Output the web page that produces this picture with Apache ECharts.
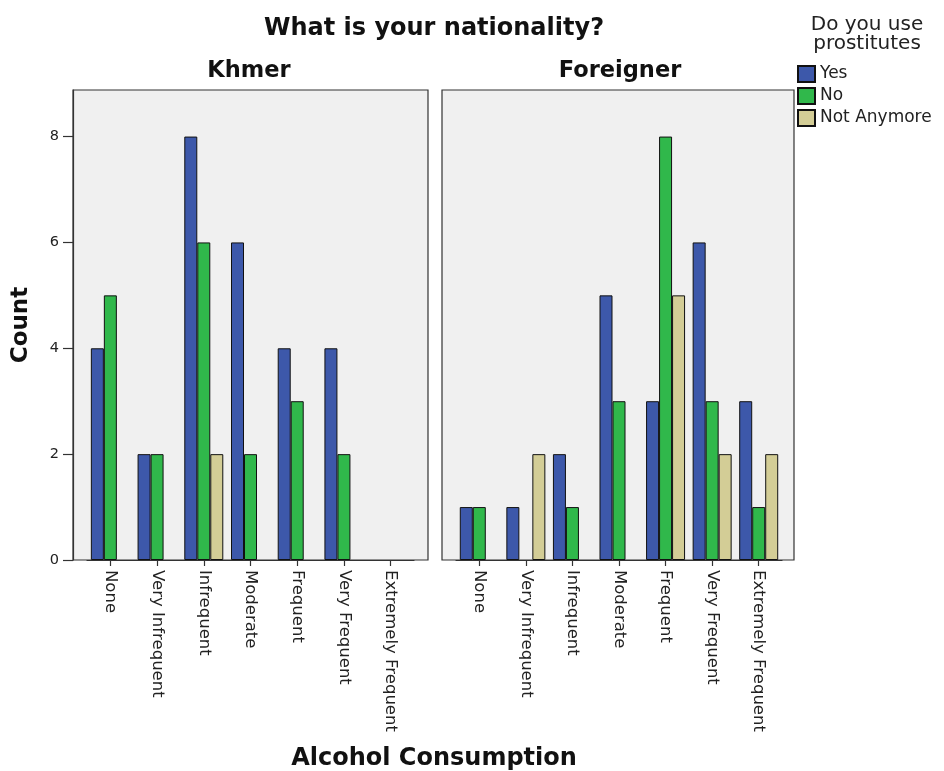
<!DOCTYPE html>
<html>
<head>
<meta charset="utf-8">
<script src="https://cdn.jsdelivr.net/npm/echarts@6/dist/echarts.min.js"></script>
<style>html,body{margin:0;padding:0;background:#fff;}#c{width:944px;height:771px;}</style>
</head>
<body>
<div id="c"></div>
<script>
const categories = ['None','Very Infrequent','Infrequent','Moderate','Frequent','Very Frequent','Extremely Frequent'];
const panels = ['Khmer','Foreigner'];
const seriesNames = ['Yes','No','Not Anymore'];
const khmerYes = [4,2,8,6,4,4,0];
const khmerNo = [5,2,6,2,3,2,0];
const khmerNotAnymore = [0,0,2,0,0,0,0];
const foreignerYes = [1,1,2,5,3,6,3];
const foreignerNo = [1,0,1,3,8,3,1];
const foreignerNotAnymore = [0,2,0,0,5,2,2];
const yTicks = [0,2,4,6,8];
const yMax = 8.88;

const colors = ['#3d58aa','#30b84b','#d3cd96'];
const font = 'DejaVu Sans';
const panelData = [
  [khmerYes, khmerNo, khmerNotAnymore],
  [foreignerYes, foreignerNo, foreignerNotAnymore]
];

const chart = echarts.init(document.getElementById('c'), null, {renderer:'canvas'});

const grids = [
  {left:73, top:90, width:355, height:470, show:true, backgroundColor:'#f0f0f0', borderColor:'#333', borderWidth:1.2},
  {left:442, top:90, width:352, height:470, show:true, backgroundColor:'#f0f0f0', borderColor:'#333', borderWidth:1.2},
  {left:87, top:90, width:327, height:470},
  {left:456, top:90, width:326, height:470}
];

const xAxes = [0,1].map(i => ({
  gridIndex: 2 + i, type:'category', data: categories, boundaryGap:true,
  axisLine:{show:true, lineStyle:{color:'#333', width:1.2}},
  axisTick:{show:true, alignWithLabel:true, length:6, lineStyle:{color:'#333', width:1.2}},
  axisLabel:{interval:0, rotate:-90, fontFamily:font, fontSize:16.5, color:'#222', margin:10}
}));

const yAxes = [
  {gridIndex:2, type:'value', min:0, max:yMax, offset:14,
   name:'Count', nameLocation:'middle', nameRotate:90, nameGap:40,
   nameTextStyle:{fontFamily:font, fontSize:23, fontWeight:'bold', color:'#111'},
   axisLine:{show:true, lineStyle:{color:'#333', width:1.2}},
   axisTick:{show:true, length:10, customValues:yTicks, lineStyle:{color:'#333', width:1.2}},
   axisLabel:{customValues:yTicks, fontFamily:font, fontSize:14.5, color:'#222', margin:14},
   splitLine:{show:false}},
  {gridIndex:3, type:'value', min:0, max:yMax, show:false, splitLine:{show:false}}
];

const series = [];
panelData.forEach((arrs, p) => {
  arrs.forEach((vals, s) => {
    series.push({
      name: seriesNames[s], type:'bar', xAxisIndex:p, yAxisIndex:p,
      data: vals.map(v => v === 0 ? null : v), barWidth:13, barGap:'0%',
      itemStyle:{color:colors[s], borderColor:'#111', borderWidth:1},
      emphasis:{disabled:true}
    });
  });
});

function txt(text, x, y, size, bold) {
  return {type:'text', x:x, y:y, silent:true, style:{
    text:text, fontFamily:font, fontSize:size, fontWeight: bold ? 'bold' : 'normal',
    fill: bold ? '#111' : '#222', textAlign:'center', textVerticalAlign:'middle', verticalAlign:'middle'}};
}

chart.setOption({
  animation:false,
  grid: grids,
  xAxis: xAxes,
  yAxis: yAxes,
  legend: {
    data: seriesNames, orient:'vertical', left:797, top:65, itemGap:4, padding:0,
    itemWidth:17, itemHeight:16, icon:'rect',
    textStyle:{fontFamily:font, fontSize:17, color:'#222'}
  },
  graphic: [
    txt('What is your nationality?', 434, 29, 24, true),
    txt(panels[0], 249, 71, 22.5, true),
    txt(panels[1], 620, 71, 22.5, true),
    txt('Alcohol Consumption', 434, 759, 24, true),
    txt('Do you use', 867, 25, 20, false),
    txt('prostitutes', 867, 44, 20, false)
  ],
  series: series
});
</script>
</body>
</html>
